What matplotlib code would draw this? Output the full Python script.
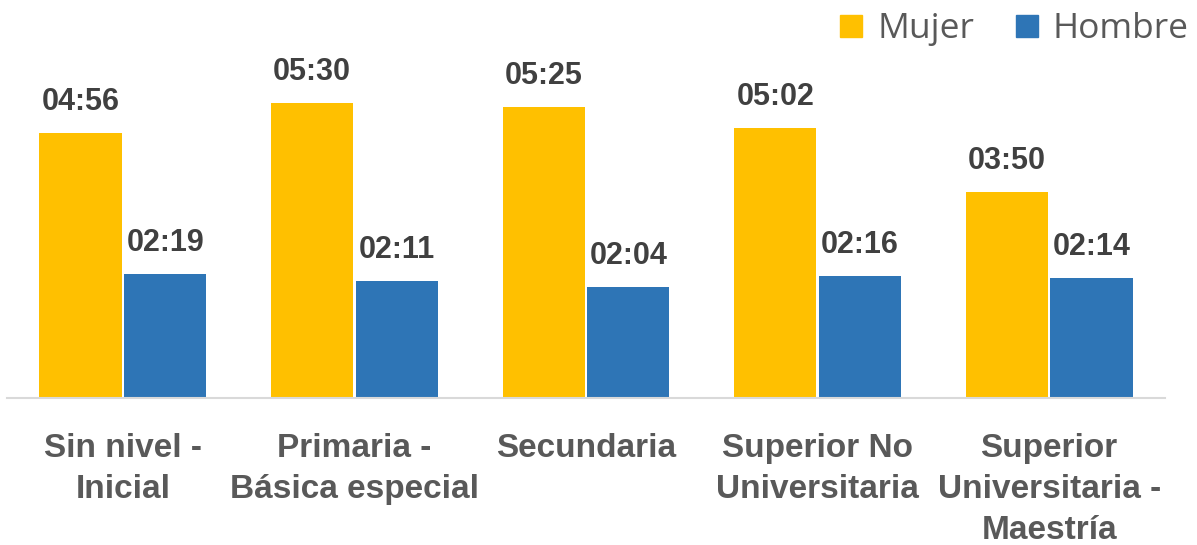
import matplotlib
matplotlib.use("Agg")
import matplotlib.pyplot as plt
from matplotlib.lines import Line2D
from matplotlib import font_manager
import numpy as np

categories = ["Sin nivel -\nInicial", "Primaria -\nBásica especial", "Secundaria",
              "Superior No\nUniversitaria", "Superior\nUniversitaria -\nMaestría"]
mujer_labels = ["04:56", "05:30", "05:25", "05:02", "03:50"]
hombre_labels = ["02:19", "02:11", "02:04", "02:16", "02:14"]
series_names = ["Mujer", "Hombre"]

def to_min(s):
    h, m = s.split(":")
    return int(h) * 60 + int(m)

mujer = [to_min(s) for s in mujer_labels]
hombre = [to_min(s) for s in hombre_labels]

names = {f.name for f in font_manager.fontManager.ttflist}
narrow = "Liberation Sans Narrow" if "Liberation Sans Narrow" in names else "Liberation Sans"
legend_font = "Open Sans" if "Open Sans" in names else "DejaVu Sans"

C_M = "#FFC000"
C_H = "#2E75B6"

fig = plt.figure(figsize=(11.97, 5.45), dpi=100)
ax = fig.add_axes([7/1197, (545-398)/545, 1158/1197, 398/545])
x = np.arange(len(categories))
w = 0.355
off = 0.183
b1 = ax.bar(x - off, mujer, w, color=C_M)
b2 = ax.bar(x + off, hombre, w, color=C_H)
ax.set_xlim(-0.5, 4.5)
ax.set_ylim(0, 445)

for bars, labs in ((b1, mujer_labels), (b2, hombre_labels)):
    for r, t in zip(bars, labs):
        ax.annotate(t, (r.get_x() + r.get_width()/2, r.get_height()),
                    xytext=(0, 11.5), textcoords="offset points",
                    ha="center", va="bottom", fontsize=22, fontweight="bold",
                    color="#404040", family=narrow)

for s in ["top", "right", "left"]:
    ax.spines[s].set_visible(False)
ax.spines["bottom"].set_color("#D9D9D9")
ax.spines["bottom"].set_linewidth(1.5)
ax.set_yticks([])
ax.set_xticks(x)
ax.set_xticklabels(categories, fontsize=24, fontweight="bold", color="#595959",
                   family=narrow, linespacing=1.42)
ax.tick_params(axis="x", length=0, pad=25)

handles = [Line2D([], [], marker="s", ls="", color=C_M, markersize=16),
           Line2D([], [], marker="s", ls="", color=C_H, markersize=16)]
leg = fig.legend(handles, series_names, loc="upper right",
                 bbox_to_anchor=(1196/1197, 1 - 5/545), borderaxespad=0.0, borderpad=0.2,
                 ncol=2, frameon=False, handlelength=0.7, handletextpad=0.38,
                 columnspacing=1.15, prop={"family": legend_font, "size": 25.5})
for t in leg.get_texts():
    t.set_color("#595959")

fig.savefig("out.png", dpi=100)
